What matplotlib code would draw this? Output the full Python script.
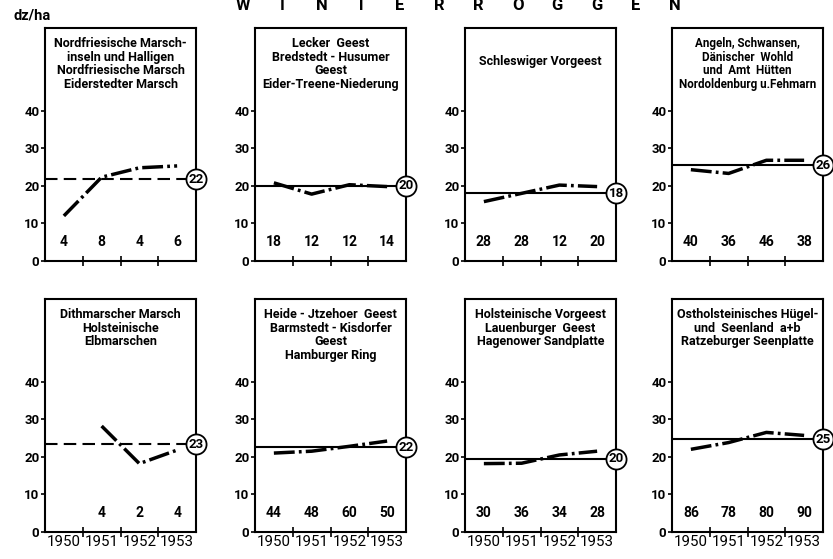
import matplotlib
matplotlib.use("Agg")
import matplotlib.pyplot as plt
import numpy as np

plt.rcParams['font.family'] = ['Roboto', 'DejaVu Sans']

# Winterroggen, Ertrag in dz/ha je Naturraum
years = ['1950', '1951', '1952', '1953']
titles = [
    "Nordfriesische Marsch-\ninseln und Halligen\nNordfriesische Marsch\nEiderstedter Marsch",
    "Lecker  Geest\nBredstedt - Husumer\nGeest\nEider-Treene-Niederung",
    "Schleswiger Vorgeest",
    "Angeln, Schwansen,\nDänischer  Wohld\nund  Amt  Hütten\nNordoldenburg u.Fehmarn",
    "Dithmarscher Marsch\nHolsteinische\nElbmarschen",
    "Heide - Jtzehoer  Geest\nBarmstedt - Kisdorfer\nGeest\nHamburger Ring",
    "Holsteinische Vorgeest\nLauenburger  Geest\nHagenower Sandplatte",
    "Ostholsteinisches Hügel-\nund  Seenland  a+b\nRatzeburger Seenplatte",
]
yields = [
    [12.0, 22.3, 24.8, 25.3],
    [20.8, 17.8, 20.3, 19.8],
    [15.8, 18.0, 20.2, 19.8],
    [24.3, 23.3, 26.8, 26.8],
    [np.nan, 28.2, 18.2, 21.8],
    [21.0, 21.5, 22.8, 24.2],
    [18.2, 18.3, 20.5, 21.5],
    [22.0, 23.8, 26.5, 25.7],
]
means = [21.7, 20.0, 18.0, 25.5, 23.3, 22.5, 19.5, 24.7]
mean_labels = ['22', '20', '18', '26', '23', '22', '20', '25']
counts = [
    ['4', '8', '4', '6'],
    ['18', '12', '12', '14'],
    ['28', '28', '12', '20'],
    ['40', '36', '46', '38'],
    ['', '4', '2', '4'],
    ['44', '48', '60', '50'],
    ['30', '36', '34', '28'],
    ['86', '78', '80', '90'],
]
mean_dashed = [True, False, False, False, True, False, False, False]

fig = plt.figure(figsize=(8.33, 5.59), dpi=100)

lefts = [45, 255, 465, 672]
w = 151 / 833
h = 233 / 559
bottoms = [1 - 261 / 559, 1 - 532 / 559]

x = np.arange(4) + 0.5
for i in range(8):
    row, col = divmod(i, 4)
    ax = fig.add_axes([lefts[col] / 833, bottoms[row], w, h])
    ax.set_xlim(0, 4)
    ax.set_ylim(0, 62)
    for s in ax.spines.values():
        s.set_linewidth(1.5)

    ax.plot(x, yields[i], color='black', lw=2.5,
            linestyle=(0, (6, 1.2, 0.8, 1.2)), solid_capstyle='round')
    ls = (0, (6, 3)) if mean_dashed[i] else '-'
    ax.plot([0, 4], [means[i], means[i]], color='black', lw=1.5, linestyle=ls)
    ax.plot([4], [means[i]], 'o', ms=14.5, mfc='white', mec='black', mew=1.3,
            clip_on=False, zorder=5)
    ax.text(4, means[i], mean_labels[i], ha='center', va='center',
            fontsize=9.5, fontweight='bold', zorder=6, clip_on=False)

    for xi, c in zip(x, counts[i]):
        ax.text(xi, 5, c, ha='center', va='center', fontsize=10, fontweight='bold')

    tsize = 8.4 if i == 3 else 9
    if i == 2:
        ax.text(0.5, 0.855, titles[i], transform=ax.transAxes, ha='center',
                va='center', fontsize=tsize, fontweight='bold')
    else:
        ax.text(0.5, 0.96, titles[i], transform=ax.transAxes, ha='center',
                va='top', fontsize=tsize, fontweight='bold', linespacing=1.05)

    ax.set_yticks([0, 10, 20, 30, 40])
    ax.set_yticklabels(['0', '10', '20', '30', '40'], fontsize=9.5, fontweight='bold')
    ax.tick_params(axis='y', direction='out', length=3, width=1.2, pad=1)
    ax.set_xticks([1, 2, 3])
    ax.tick_params(axis='x', direction='inout', length=7, width=1.2)
    if row == 1:
        ax.set_xticks([0.5, 1.5, 2.5, 3.5], minor=True)
        ax.set_xticklabels(years, minor=True, fontsize=10.8)
        ax.tick_params(axis='x', which='minor', length=0, pad=2)
    ax.set_xticklabels([])

fig.text(13 / 833, 1 - 16 / 559, "dz/ha", fontsize=10.5, fontweight='bold',
         va='center', ha='left')
title = "WINTERROGGEN"
for k, xp in enumerate(np.linspace(243, 675, len(title))):
    fig.text(xp / 833, 1 - 6 / 559, title[k], fontsize=12, fontweight='bold',
             ha='center', va='center')

fig.savefig("out.png", dpi=100)
